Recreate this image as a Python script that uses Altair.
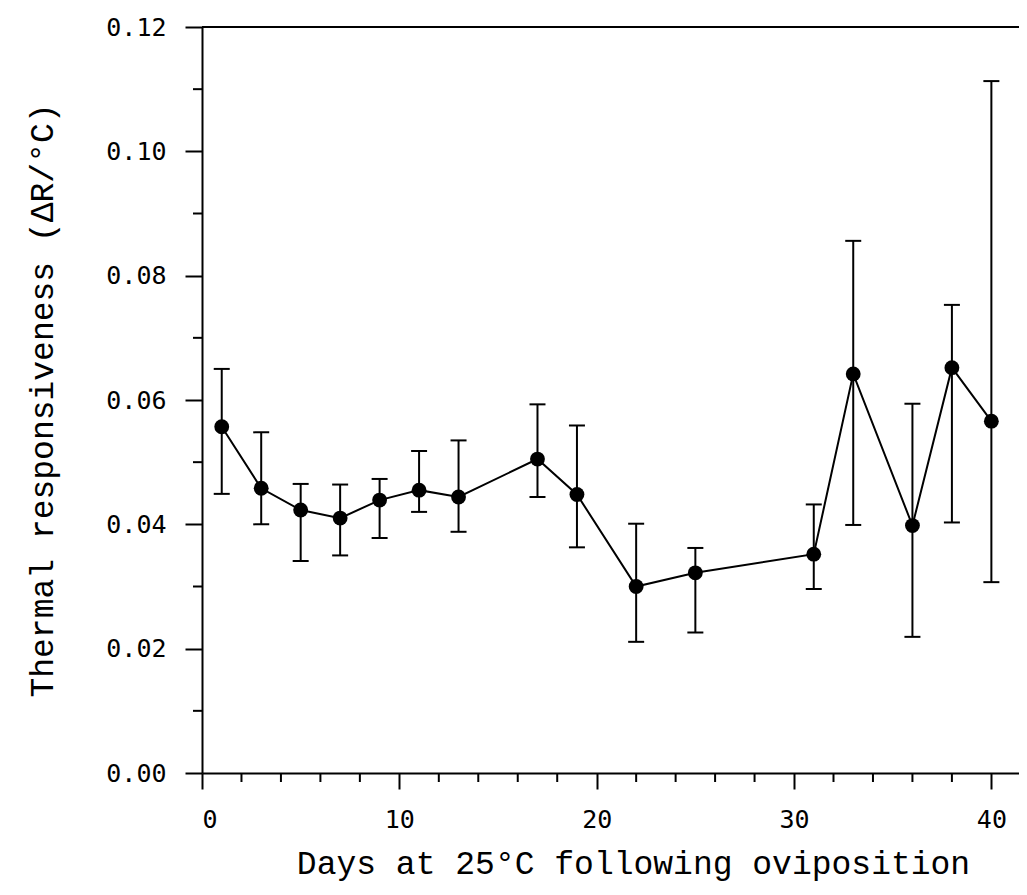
import altair as alt
import pandas as pd

days = [1, 3, 5, 7, 9, 11, 13, 17, 19, 22, 25, 31, 33, 36, 38, 40]
mean = [0.0557, 0.0458, 0.0423, 0.0410, 0.0439, 0.0455, 0.0444, 0.0505,
        0.0448, 0.0300, 0.0322, 0.0352, 0.0642, 0.0398, 0.0652, 0.0566]
upper = [0.0650, 0.0548, 0.0465, 0.0464, 0.0473, 0.0518, 0.0535, 0.0593,
         0.0559, 0.0401, 0.0362, 0.0432, 0.0856, 0.0594, 0.0753, 0.1113]
lower = [0.0449, 0.0400, 0.0341, 0.0350, 0.0378, 0.0420, 0.0388, 0.0444,
         0.0363, 0.0211, 0.0226, 0.0296, 0.0399, 0.0219, 0.0403, 0.0307]

x_major = [0, 10, 20, 30, 40]
x_minor = [2, 4, 6, 8, 12, 14, 16, 18, 22, 24, 26, 28, 32, 34, 36, 38]
y_major = [0.00, 0.02, 0.04, 0.06, 0.08, 0.10, 0.12]
y_minor = [0.01, 0.03, 0.05, 0.07, 0.09, 0.11]

X_MAX = 41.4
Y_MAX = 0.12
W, H = 817, 746

df = pd.DataFrame({"day": days, "mean": mean, "upper": upper, "lower": lower})
xmin_df = pd.DataFrame({"t": x_minor})
ymin_df = pd.DataFrame({"t": y_minor})

LABEL_FONT = "DejaVu Sans Mono"
TITLE_FONT = "Liberation Mono"

xscale = alt.Scale(domain=[0, X_MAX], nice=False, zero=False)
yscale = alt.Scale(domain=[0, Y_MAX], nice=False, zero=False)

xaxis = alt.Axis(
    values=x_major, tickSize=16, labelPadding=18, format="d",
    title="Days at 25°C following oviposition",
    titleX=431, titleY=100, titleBaseline="alphabetic", titleAlign="center",
    titleAnchor="start",
)
yaxis = alt.Axis(
    values=y_major, tickSize=17, labelPadding=19, format=".2f",
    title="Thermal responsiveness (ΔR/°C)",
    titleX=-160, titleY=H / 2, titleBaseline="middle", titleAlign="center",
    titleAngle=-90, titleAnchor="start",
)

base = alt.Chart(df)

line = base.mark_line(color="black", strokeWidth=2).encode(
    x=alt.X("day:Q", scale=xscale, axis=xaxis),
    y=alt.Y("mean:Q", scale=yscale, axis=yaxis),
)

bars = base.mark_rule(color="black", strokeWidth=2).encode(
    x=alt.X("day:Q", scale=xscale),
    y=alt.Y("lower:Q", scale=yscale),
    y2="upper:Q",
)

cap_hi = base.mark_tick(color="black", thickness=2, size=16, orient="horizontal", opacity=1).encode(
    x=alt.X("day:Q", scale=xscale),
    y=alt.Y("upper:Q", scale=yscale),
)
cap_lo = base.mark_tick(color="black", thickness=2, size=16, orient="horizontal", opacity=1).encode(
    x=alt.X("day:Q", scale=xscale),
    y=alt.Y("lower:Q", scale=yscale),
)

pts = base.mark_circle(color="black", size=220, opacity=1).encode(
    x=alt.X("day:Q", scale=xscale),
    y=alt.Y("mean:Q", scale=yscale),
)

top = alt.Chart(pd.DataFrame({"a": [0]})).mark_rule(color="black", strokeWidth=2).encode(
    x=alt.datum(0, scale=xscale),
    x2=alt.datum(X_MAX),
    y=alt.datum(Y_MAX, scale=yscale),
)

xminor = alt.Chart(xmin_df).mark_rule(color="black", strokeWidth=2).encode(
    x=alt.X("t:Q", scale=xscale),
    y=alt.value(H),
    y2=alt.value(H + 9),
)
yminor = alt.Chart(ymin_df).mark_rule(color="black", strokeWidth=2).encode(
    y=alt.Y("t:Q", scale=yscale),
    x=alt.value(0),
    x2=alt.value(-9),
)

chart = alt.layer(line, bars, cap_hi, cap_lo, pts, top, xminor, yminor).properties(
    width=W, height=H,
    autosize=alt.AutoSizeParams(type="none"),
    padding={"left": 194, "top": 19, "right": 0, "bottom": 110},
).configure_view(stroke=None).configure_axis(
    grid=False,
    domainColor="black", domainWidth=2,
    tickColor="black", tickWidth=2,
    labelColor="black", labelFont=LABEL_FONT, labelFontSize=25,
    titleColor="black", titleFont=TITLE_FONT, titleFontSize=33, titleFontWeight="normal",
)

chart.save("out.html", embed_options={"renderer": "svg", "actions": False})
